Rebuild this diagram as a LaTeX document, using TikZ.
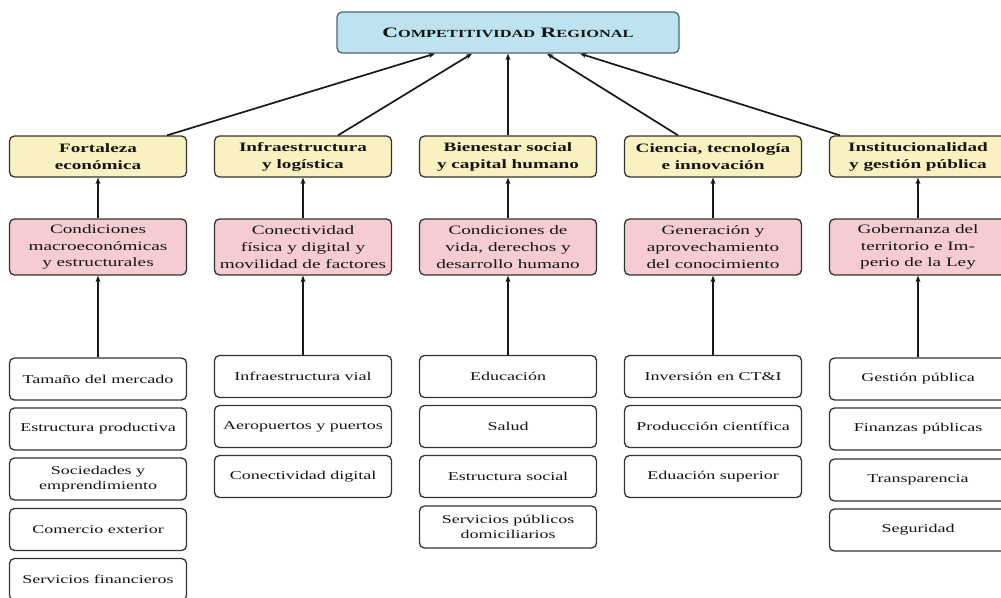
\documentclass[tikz,border=0pt]{standalone}
\usepackage{fontspec}
\setmainfont{Liberation Serif}[FakeStretch=1.5]
\usetikzlibrary{arrows.meta}
\definecolor{topfill}{HTML}{BCE3EF}
\definecolor{topdraw}{HTML}{4A6670}
\definecolor{yfill}{HTML}{F9F1BF}
\definecolor{pfill}{HTML}{F5CCD2}
\definecolor{bdraw}{HTML}{333333}
\definecolor{txt}{HTML}{151515}
\newcommand\fsc[1]{{\fontsize{10.9}{13}\selectfont #1}}
\begin{document}
\begin{tikzpicture}[x=1pt,y=-1pt,
 box/.style={draw=bdraw, line width=1.3pt, rounded corners=5pt, align=center, inner sep=0pt, text=txt},
 topbox/.style={box, fill=topfill, draw=topdraw, minimum width=342pt, minimum height=41pt, font=\fontsize{14.5}{17}\selectfont\bfseries},
 ybox/.style={box, fill=yfill, minimum width=177pt, minimum height=41pt, font=\fontsize{12.8}{17}\selectfont\bfseries},
 pbox/.style={box, fill=pfill, minimum width=177pt, minimum height=56pt, font=\fontsize{12.8}{16.7}\selectfont},
 wbox/.style={box, fill=white, minimum width=177pt, minimum height=42pt, font=\fontsize{12}{15}\selectfont},
 arr/.style={-{Stealth[length=6.5pt,width=5pt]}, line width=1.7pt, black!90}]
\clip (0,0) rectangle (1001,597);
\fill[white] (0,0) rectangle (1001,597);

\node[topbox] (top) at (508,32.5) {C\fsc{OMPETITIVIDAD} R\fsc{EGIONAL}};

% yellow
\node[ybox] (y1) at (98,156.5) {Fortaleza\\económica};
\node[ybox] (y2) at (303,156.5) {Infraestructura\\y logística};
\node[ybox] (y3) at (508,156.5) {Bienestar social\\y capital humano};
\node[ybox] (y4) at (713,156.5) {Ciencia, tecnología\\e innovación};
\node[ybox] (y5) at (918,156.5) {Institucionalidad\\y gestión pública};

% pink
\node[pbox] (p1) at (98,247) {Condiciones\\macroeconómicas\\y estructurales};
\node[pbox] (p2) at (303,247) {Conectividad\\física y digital y\\movilidad de factores};
\node[pbox] (p3) at (508,247) {Condiciones de\\vida, derechos y\\desarrollo humano};
\node[pbox] (p4) at (713,247) {Generación y\\aprovechamiento\\del conocimiento};
\node[pbox] (p5) at (918,247) {Gobernanza del\\territorio e Im-\\perio de la Ley};

% white col1
\node[wbox] (a1) at (98,379) {Tamaño del mercado};
\node[wbox] (a2) at (98,429) {Estructura productiva};
\node[wbox] (a3) at (98,479) {Sociedades y\\emprendimiento};
\node[wbox] (a4) at (98,529.5) {Comercio exterior};
\node[wbox] (a5) at (98,579.5) {Servicios financieros};
% col2
\node[wbox] (b1) at (303,376.5) {Infraestructura vial};
\node[wbox] (b2) at (303,426.5) {Aeropuertos y puertos};
\node[wbox] (b3) at (303,476.5) {Conectividad digital};
% col3
\node[wbox] (c1) at (508,376.5) {Educación};
\node[wbox] (c2) at (508,426.5) {Salud};
\node[wbox] (c3) at (508,476.5) {Estructura social};
\node[wbox] (c4) at (508,527) {Servicios públicos\\domiciliarios};
% col4
\node[wbox] (d1) at (713,376.5) {Inversión en CT\&I};
\node[wbox] (d2) at (713,426.5) {Producción científica};
\node[wbox] (d3) at (713,476.5) {Eduación superior};
% col5
\node[wbox] (e1) at (918,379) {Gestión pública};
\node[wbox] (e2) at (918,429) {Finanzas públicas};
\node[wbox] (e3) at (918,480) {Transparencia};
\node[wbox] (e4) at (918,530) {Seguridad};

% arrows white -> pink
\draw[arr] (a1.north) -- (p1.south);
\draw[arr] (b1.north) -- (p2.south);
\draw[arr] (c1.north) -- (p3.south);
\draw[arr] (d1.north) -- (p4.south);
\draw[arr] (e1.north) -- (p5.south);
% pink -> yellow
\draw[arr] (p1.north) -- (y1.south);
\draw[arr] (p2.north) -- (y2.south);
\draw[arr] (p3.north) -- (y3.south);
\draw[arr] (p4.north) -- (y4.south);
\draw[arr] (p5.north) -- (y5.south);
% yellow -> top
\draw[arr] ([xshift=69pt]y1.north) -- ([xshift=-73pt]top.south);
\draw[arr] ([xshift=35pt]y2.north) -- ([xshift=-36pt]top.south);
\draw[arr] (y3.north) -- (top.south);
\draw[arr] ([xshift=-35pt]y4.north) -- ([xshift=39pt]top.south);
\draw[arr] ([xshift=-78pt]y5.north) -- ([xshift=72pt]top.south);
\end{tikzpicture}
\end{document}
